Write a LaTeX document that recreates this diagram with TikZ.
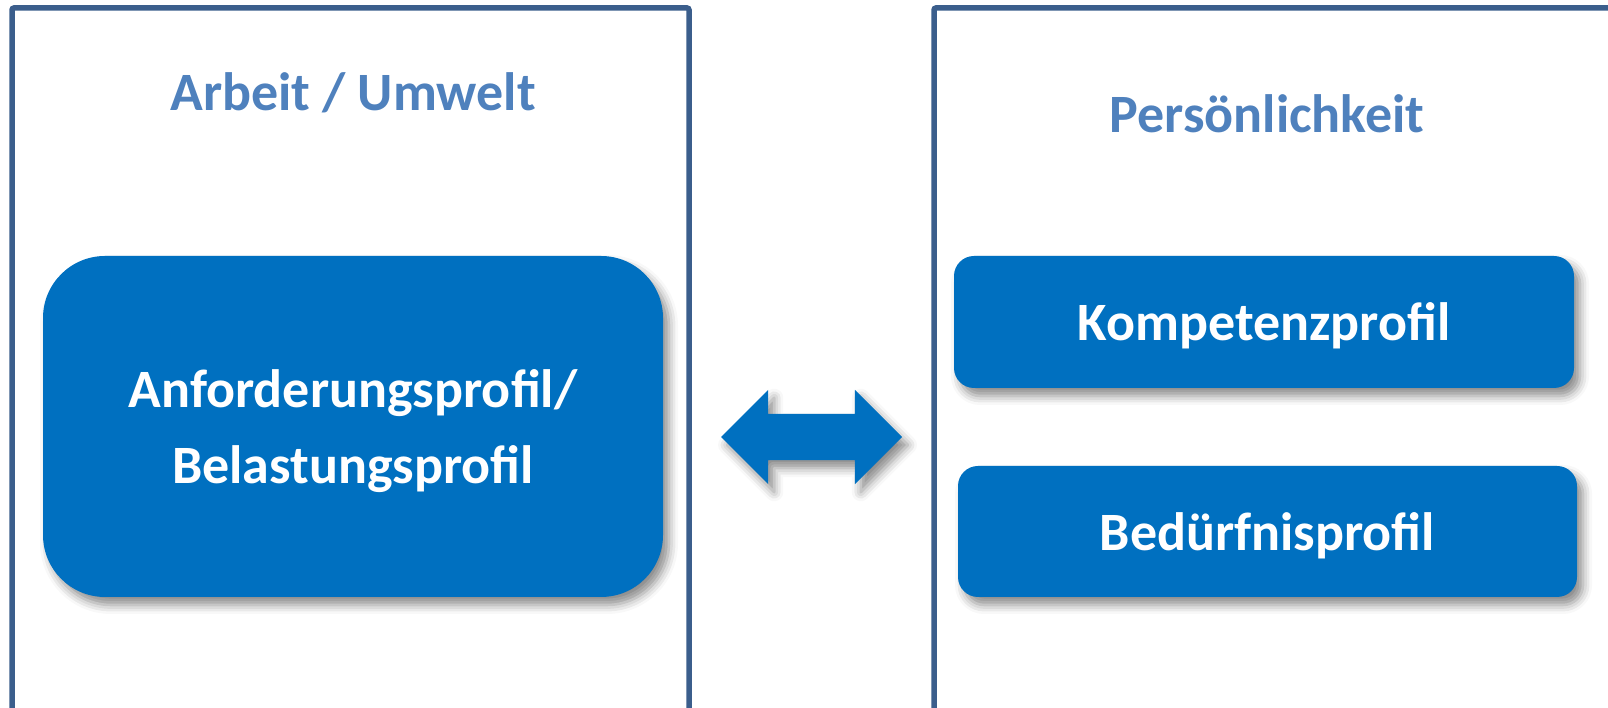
\documentclass[tikz,border=0pt]{standalone}
\usepackage{fontspec}
\setmainfont{Carlito}
\usepackage{xcolor}
\usetikzlibrary{shapes.arrows,shadows.blur,positioning}

\definecolor{rahmenblau}{HTML}{3B5E8C}
\definecolor{titelblau}{HTML}{4F81BD}
\definecolor{kastenblau}{HTML}{0070C0}

\begin{document}
\begin{tikzpicture}
      [x=1pt, y=1pt,
       every node/.style={align=center, font=\bfseries},
       rahmen/.style={draw=rahmenblau, line width=5.5pt, rounded corners=2pt},
       titel/.style={text=titelblau, font=\bfseries\fontsize{54}{60}\selectfont, anchor=base},
       schatten/.style={blur shadow={shadow xshift=6pt, shadow yshift=-8pt,
                        shadow blur radius=9pt, shadow opacity=45}},
       kasten/.style={fill=kastenblau, text=white, schatten, text depth=0pt,
                      font=\bfseries\fontsize{54}{76}\selectfont, inner sep=0pt},
       pfeil/.style={double arrow, fill=kastenblau, schatten, inner xsep=0pt,
                     inner ysep=23pt, double arrow head extend=24pt,
                     minimum width=94pt, minimum height=181pt}]
      \useasboundingbox (0, 0) rectangle (1608, 708);

      % Rahmen
      \draw [rahmen] (12, -10) -- (12, 700) -- (689, 700) -- (689, -10);
      \draw [rahmen] (934, -10) -- (934, 700) -- (1620, 700);

      % Ueberschriften
      \node (arb) [titel] at (353, 597) {Arbeit / Umwelt};
      \node (pers) [titel] at (1267, 575) {Persönlichkeit};

      % Profile
      \node (anf) [kasten, minimum width=620pt, minimum height=341pt,
                   rounded corners=62pt] at (353, 281.5)
                  {Anforderungsprofil/\\Belastungsprofil};
      \node (komp) [kasten, minimum width=620pt, minimum height=132pt,
                    rounded corners=20pt] at (1264, 386) {Kompetenzprofil};
      \node (bed) [kasten, minimum width=619pt, minimum height=131pt,
                   rounded corners=20pt] at (1267.5, 176.5) {Bedürfnisprofil};

      \node (pf) [pfeil] at (811.5, 271) {};
    \end{tikzpicture}
\end{document}
